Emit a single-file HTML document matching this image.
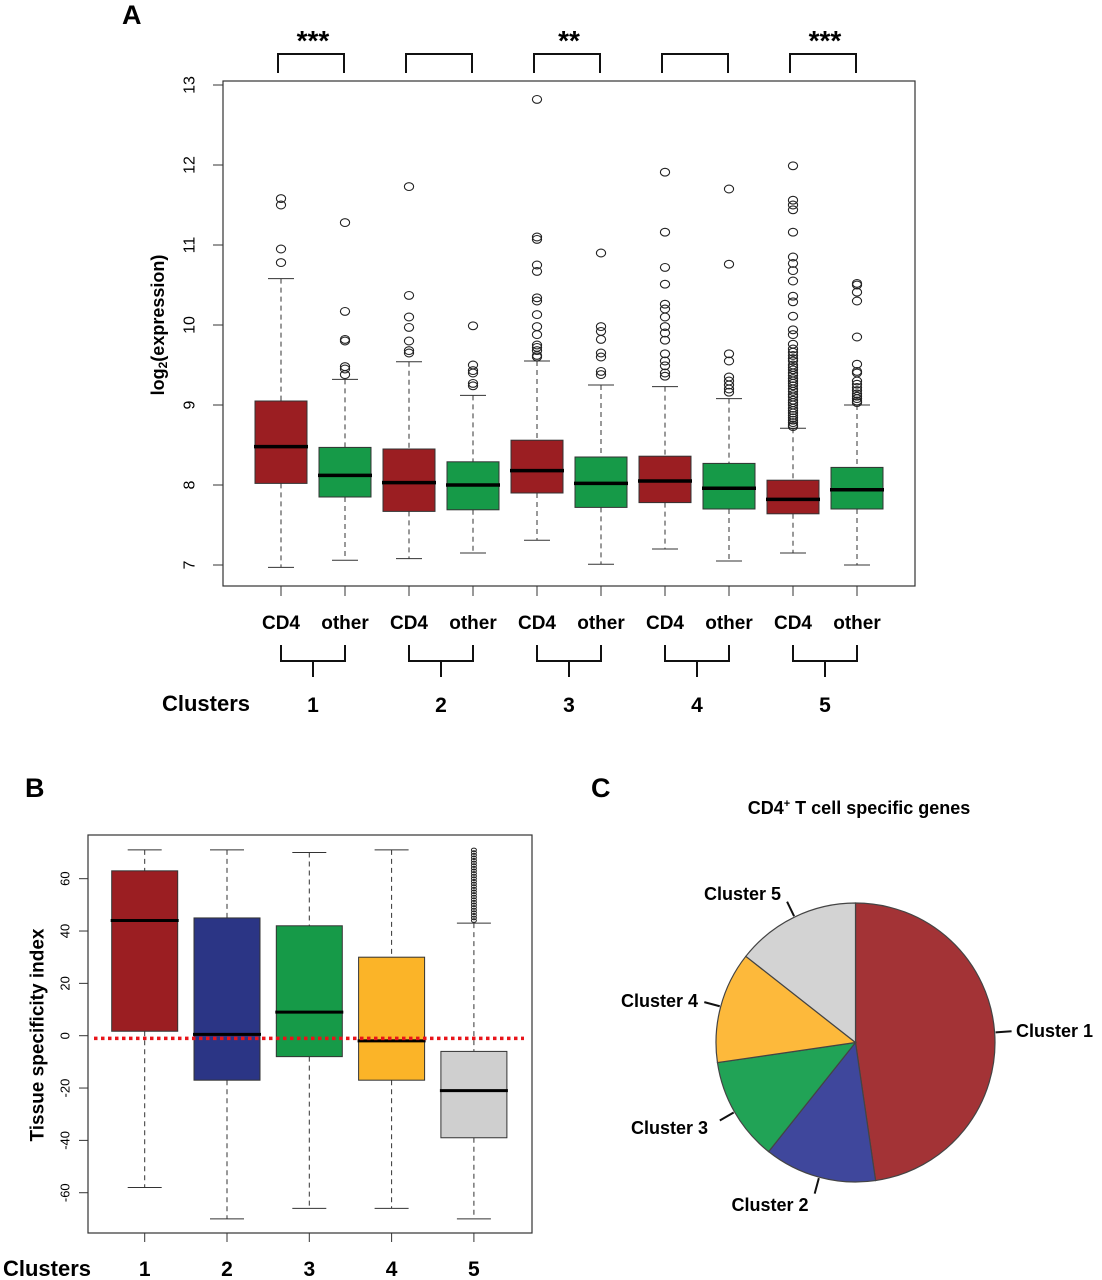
<!DOCTYPE html>
<html><head><meta charset="utf-8"><style>
body{margin:0;background:#fff}
svg{display:block;font-family:"Liberation Sans",Arial,sans-serif}
</style></head><body>
<svg id="fig" width="1102" height="1280" viewBox="0 0 1102 1280">
<g id="gA"></g>
<g id="gB"></g>
<g id="gC"></g>
</svg>
<script>
// ---------- Panel A data ----------
const groupsA = ["CD4","other","CD4","other","CD4","other","CD4","other","CD4","other"];
const clustersA = ["1","2","3","4","5"];
const q1A  = [8.02,7.85,7.67,7.69,7.90,7.72,7.78,7.70,7.64,7.70];
const medA = [8.48,8.12,8.03,8.00,8.18,8.02,8.05,7.96,7.82,7.94];
const q3A  = [9.05,8.47,8.45,8.29,8.56,8.35,8.36,8.27,8.06,8.22];
const loA  = [6.97,7.06,7.08,7.15,7.31,7.01,7.20,7.05,7.15,7.00];
const hiA  = [10.58,9.32,9.54,9.12,9.55,9.25,9.23,9.08,8.71,9.00];
const outA = [
 [11.58,11.50,10.95,10.78],
 [11.28,10.17,9.82,9.80,9.48,9.45,9.38],
 [11.73,10.37,10.10,9.97,9.80,9.68,9.65],
 [9.99,9.50,9.43,9.40,9.27,9.24],
 [12.82,11.10,11.07,10.75,10.67,10.34,10.30,10.13,9.98,9.88,9.75,9.72,9.68,9.62,9.60],
 [10.90,9.98,9.92,9.82,9.65,9.60,9.42,9.38],
 [11.91,11.16,10.72,10.51,10.26,10.20,10.10,9.98,9.90,9.81,9.64,9.55,9.49,9.40,9.36],
 [11.70,10.76,9.64,9.55,9.35,9.30,9.25,9.20,9.16],
 [11.99,11.56,11.50,11.44,11.16,10.85,10.77,10.68,10.55,10.36,10.29,10.11,9.94,9.88,9.76,9.70,9.66,9.62,9.58,9.55,9.50,9.47,9.44,9.40,9.37,9.33,9.30,9.27,9.24,9.20,9.17,9.13,9.10,9.06,9.03,9.00,8.96,8.93,8.90,8.87,8.84,8.81,8.78,8.75,8.73],
 [10.52,10.50,10.41,10.30,9.85,9.51,9.42,9.40,9.30,9.26,9.22,9.18,9.14,9.11,9.08,9.05,9.03]
];
const sigA = ["***","","**","","***"];
const yTicksA = [7,8,9,10,11,12,13];
// ---------- Panel B data ----------
const clustersB = ["1","2","3","4","5"];
const q1B  = [1.7,-17,-8,-17,-39];
const medB = [44,0.5,9,-2,-21];
const q3B  = [63,45,42,30,-6];
const loB  = [-58,-70,-66,-66,-70];
const hiB  = [71,71,70,71,43];
const outB = [[],[],[],[],[44,45,46,47,48,49,50,51,52,53,54,55,56,57,58,59,60,61,62,63,64,65,66,67,68,69,70,71]];
const refLineB = -1;
const yTicksB = [-60,-40,-20,0,20,40,60];
const colorsB = ["#9b1e22","#2b3585","#169a48","#fbb428","#cfcfcf"];
// ---------- Panel C data ----------
const pieLabels = ["Cluster 1","Cluster 2","Cluster 3","Cluster 4","Cluster 5"];
const pieValues = [47.7,13.0,12.0,12.9,14.4];
const pieColors = ["#a33336","#3f479c","#21a356","#fdb93b","#d3d3d3"];

const NS="http://www.w3.org/2000/svg";
function mk(parent,tag,attrs,text){const e=document.createElementNS(NS,tag);for(const k in attrs)e.setAttribute(k,attrs[k]);if(text!==undefined)e.textContent=text;parent.appendChild(e);return e;}

// ---------- Panel A ----------
(function(){
 const g=document.getElementById('gA');
 const yA=v=>565-(v-7)*80;
 const xA=i=>281+i*64.0;
 const hw=26;
 let t=mk(g,'text',{x:122,y:24,'font-size':27,'font-weight':'bold'},'A');
 
 
 let r=mk(g,'rect',{x:223,y:81,width:692,height:505,fill:'none',stroke:'#333','stroke-width':1.2});
 
 
 yTicksA.forEach(v=>{
  mk(g,'line',{x1:213,x2:223,y1:yA(v),y2:yA(v),stroke:'#333'});
  const tx=mk(g,'text',{x:190,y:yA(v),'font-size':16,'text-anchor':'middle',transform:`rotate(-90 190 ${yA(v)})`,'dominant-baseline':'central'},String(v));
  
  
 });
 const yt=mk(g,'text',{x:158,y:325,'font-size':18,'font-weight':'bold','text-anchor':'middle',transform:'rotate(-90 158 325)','dominant-baseline':'central'});
 
 
 mk(yt,'tspan',{},'log');mk(yt,'tspan',{'font-size':12,dy:5},'2');mk(yt,'tspan',{dy:-5},'(expression)');
 groupsA.forEach((gr,i)=>{
  const x=xA(i);const col=gr==='CD4'?'#9b1e22':'#169a48';
  const bx=mk(g,'g',{});
  
  
  mk(bx,'line',{x1:x,x2:x,y1:yA(hiA[i]),y2:yA(q3A[i]),stroke:'#333','stroke-dasharray':'5,4'});
  mk(bx,'line',{x1:x,x2:x,y1:yA(q1A[i]),y2:yA(loA[i]),stroke:'#333','stroke-dasharray':'5,4'});
  mk(bx,'line',{x1:x-13,x2:x+13,y1:yA(hiA[i]),y2:yA(hiA[i]),stroke:'#333'});
  mk(bx,'line',{x1:x-13,x2:x+13,y1:yA(loA[i]),y2:yA(loA[i]),stroke:'#333'});
  mk(bx,'rect',{x:x-hw,y:yA(q3A[i]),width:2*hw,height:yA(q1A[i])-yA(q3A[i]),fill:col,stroke:'#333','stroke-width':1});
  mk(bx,'line',{x1:x-hw-1,x2:x+hw+1,y1:yA(medA[i]),y2:yA(medA[i]),stroke:'#000','stroke-width':3.5});
  outA[i].forEach(v=>{mk(bx,'ellipse',{cx:x,cy:yA(v),rx:4.6,ry:3.9,fill:'none',stroke:'#222','stroke-width':1.1});});
  mk(g,'line',{x1:x,x2:x,y1:586,y2:596,stroke:'#333'});
  const lb=mk(g,'text',{x:x,y:629,'font-size':19,'font-weight':'bold','text-anchor':'middle'},gr);
  
  
 });
 clustersA.forEach((c,k)=>{
  const a=xA(2*k), b=xA(2*k+1), m=(a+b)/2;
  mk(g,'path',{d:`M${a-3},73 V54 H${b-1} V73`,fill:'none',stroke:'#111','stroke-width':2});
  if(sigA[k]){const s=mk(g,'text',{x:m,y:50,'font-size':28,'font-weight':'bold','text-anchor':'middle'},sigA[k]);
   
   }
  mk(g,'path',{d:`M${a},645 V661 H${b} V645 M${m},661 V677`,fill:'none',stroke:'#111','stroke-width':2});
  const n=mk(g,'text',{x:m,y:712,'font-size':21,'font-weight':'bold','text-anchor':'middle'},c);
  
  
 });
 const cl=mk(g,'text',{x:206,y:711,'font-size':22,'font-weight':'bold','text-anchor':'middle'},'Clusters');
 
 
})();

// ---------- Panel B ----------
(function(){
 const g=document.getElementById('gB');
 const yB=v=>1035.7-v*2.617;
 const xB=i=>144.7+i*82.3;
 const hw=33;
 let t=mk(g,'text',{x:25,y:797,'font-size':27,'font-weight':'bold'},'B');
 
 
 let r=mk(g,'rect',{x:88,y:835,width:444,height:398,fill:'none',stroke:'#333','stroke-width':1.2});
 
 
 yTicksB.forEach(v=>{
  mk(g,'line',{x1:79,x2:88,y1:yB(v),y2:yB(v),stroke:'#333'});
  const tx=mk(g,'text',{x:65,y:yB(v),'font-size':13,'text-anchor':'middle',transform:`rotate(-90 65 ${yB(v)})`,'dominant-baseline':'central'},String(v));
  
  
 });
 const yt=mk(g,'text',{x:38,y:1035,'font-size':19,'font-weight':'bold','text-anchor':'middle',transform:'rotate(-90 38 1035)','dominant-baseline':'central'},'Tissue specificity index');
 
 
 clustersB.forEach((c,i)=>{
  const x=xB(i);
  const bx=mk(g,'g',{});
  
  
  mk(bx,'line',{x1:x,x2:x,y1:yB(hiB[i]),y2:yB(q3B[i]),stroke:'#333','stroke-dasharray':'5,4'});
  mk(bx,'line',{x1:x,x2:x,y1:yB(q1B[i]),y2:yB(loB[i]),stroke:'#333','stroke-dasharray':'5,4'});
  mk(bx,'line',{x1:x-17,x2:x+17,y1:yB(hiB[i]),y2:yB(hiB[i]),stroke:'#333'});
  mk(bx,'line',{x1:x-17,x2:x+17,y1:yB(loB[i]),y2:yB(loB[i]),stroke:'#333'});
  mk(bx,'rect',{x:x-hw,y:yB(q3B[i]),width:2*hw,height:yB(q1B[i])-yB(q3B[i]),fill:colorsB[i],stroke:'#333','stroke-width':1});
  mk(bx,'line',{x1:x-hw-1,x2:x+hw+1,y1:yB(medB[i]),y2:yB(medB[i]),stroke:'#000','stroke-width':3});
  outB[i].forEach(v=>{mk(bx,'ellipse',{cx:x,cy:yB(v),rx:2.5,ry:1.8,fill:'none',stroke:'#222','stroke-width':1});});
  mk(g,'line',{x1:x,x2:x,y1:1233,y2:1242,stroke:'#333'});
  const n=mk(g,'text',{x:x,y:1276,'font-size':21,'font-weight':'bold','text-anchor':'middle'},c);
  
  
 });
 const rl=mk(g,'line',{x1:94,x2:524,y1:yB(refLineB),y2:yB(refLineB),stroke:'#e8141a','stroke-width':3.5,'stroke-dasharray':'3.5,3.5'});
 
 
 const cl=mk(g,'text',{x:47,y:1276,'font-size':22,'font-weight':'bold','text-anchor':'middle'},'Clusters');
 
 
})();

// ---------- Panel C ----------
(function(){
 const g=document.getElementById('gC');
 const cx=855.5, cy=1042.5, R=139.5;
 let t=mk(g,'text',{x:591,y:797,'font-size':27,'font-weight':'bold'},'C');
 
 
 const ti=mk(g,'text',{x:859,y:814,'font-size':18,'font-weight':'bold','text-anchor':'middle'});
 
 
 mk(ti,'tspan',{},'CD4');mk(ti,'tspan',{'font-size':11,dy:-7},'+');mk(ti,'tspan',{dy:7},' T cell specific genes');
 const total=pieValues.reduce((a,b)=>a+b,0);
 let acc=0;
 const pt=a=>[cx+R*Math.sin(a),cy-R*Math.cos(a)];
 const labelPos=[[1016,1037,'start'],[770,1211,'middle'],[708,1134,'end'],[698,1007,'end'],[781,900,'end']];
 pieValues.forEach((v,i)=>{
  const a0=acc/total*2*Math.PI; acc+=v; const a1=acc/total*2*Math.PI;
  const [x0,y0]=pt(a0),[x1,y1]=pt(a1);
  const large=(a1-a0)>Math.PI?1:0;
  const s=mk(g,'path',{d:`M${cx},${cy} L${x0},${y0} A${R},${R} 0 ${large} 1 ${x1},${y1} Z`,fill:pieColors[i],stroke:'#444','stroke-width':1.2});
  
  
  const am=(a0+a1)/2;
  const [lx0,ly0]=[cx+(R+1)*Math.sin(am),cy-(R+1)*Math.cos(am)];
  const [lx1,ly1]=[cx+(R+17)*Math.sin(am),cy-(R+17)*Math.cos(am)];
  mk(g,'line',{x1:lx0,y1:ly0,x2:lx1,y2:ly1,stroke:'#111','stroke-width':2});
  const L=labelPos[i];
  const lb=mk(g,'text',{x:L[0],y:L[1],'font-size':18,'font-weight':'bold','text-anchor':L[2]},pieLabels[i]);
  
  
 });
})();
</script>
</body></html>
